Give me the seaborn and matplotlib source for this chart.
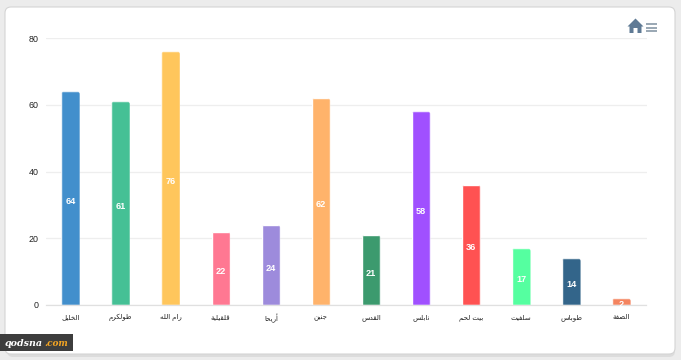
import matplotlib
matplotlib.use('Agg')
import matplotlib.pyplot as plt
import seaborn as sns
import pandas as pd
from matplotlib.patches import FancyBboxPatch, Polygon, Rectangle
from matplotlib.transforms import IdentityTransform

cities = ['الخليل', 'طولكرم', 'رام الله', 'قلقيلية', 'أريحا', 'جنين',
          'القدس', 'نابلس', 'بيت لحم', 'سلفيت', 'طوباس', 'الضفة']
values = [64, 61, 76, 22, 24, 62, 21, 58, 36, 17, 14, 2]
colors = ['#428fcc', '#45c095', '#ffc65c', '#ff7892', '#9d8bdc', '#ffb36b',
          '#3c9a6e', '#a050ff', '#ff5252', '#55ffa0', '#33658a', '#f4845f']
y_ticks = [0, 20, 40, 60, 80]

# first code point of the isolated form; order is isolated, final, initial, medial
FORMS = {'ا': 0xFE8D, 'أ': 0xFE83, 'ب': 0xFE8F, 'ت': 0xFE95, 'ة': 0xFE93, 'ج': 0xFE9D,
         'ح': 0xFEA1, 'خ': 0xFEA5, 'د': 0xFEA9, 'ر': 0xFEAD, 'س': 0xFEB1, 'ض': 0xFEBD,
         'ط': 0xFEC1, 'ف': 0xFED1, 'ق': 0xFED5, 'ك': 0xFED9, 'ل': 0xFEDD, 'م': 0xFEE1,
         'ن': 0xFEE5, 'ه': 0xFEE9, 'و': 0xFEED, 'ي': 0xFEF1}
NO_NEXT = 'اأةدرو'  # these letters do not join to the following one


def shape(text):
    """matplotlib has no Arabic shaping, so pick the forms and reverse by hand."""
    out = []
    for i, ch in enumerate(text):
        if ch not in FORMS:
            out.append(ch)
            continue
        prev = text[i - 1] if i > 0 else ' '
        nxt = text[i + 1] if i + 1 < len(text) else ' '
        joins_prev = prev in FORMS and prev not in NO_NEXT
        joins_next = nxt in FORMS and ch not in NO_NEXT
        offset = {(0, 0): 0, (1, 0): 1, (0, 1): 2, (1, 1): 3}[(int(joins_prev), int(joins_next))]
        out.append(chr(FORMS[ch] + offset))
    return ''.join(reversed(out))


df = pd.DataFrame({'city': [shape(c) for c in cities], 'value': values})

sns.set_theme(style='white')
plt.rcParams['font.family'] = ['Liberation Sans', 'DejaVu Sans']

fig = plt.figure(figsize=(6.81, 3.6), dpi=100, facecolor='#ececec')

# page layer in pixel coordinates: card, toolbar icons, watermark
bg = fig.add_axes([0, 0, 1, 1], zorder=0)
bg.set_xlim(0, 681)
bg.set_ylim(360, 0)
bg.axis('off')
bg.add_patch(FancyBboxPatch((7, 10), 668, 347, boxstyle='round,pad=0,rounding_size=6',
                            fc='#dcdcdc', ec='none'))
bg.add_patch(FancyBboxPatch((5, 7), 670, 347, boxstyle='round,pad=0,rounding_size=6',
                            fc='white', ec='#d4d4d4', lw=0.8))

icon = '#5f7a95'
bg.add_patch(Polygon([(627.5, 26.5), (635.5, 18.5), (643.5, 26.5), (641.5, 26.5), (641.5, 33),
                      (637.5, 33), (637.5, 28), (633.5, 28), (633.5, 33), (629.5, 33),
                      (629.5, 26.5)], fc=icon, ec='none'))
for y in (24, 27.5, 31):
    bg.plot([646, 657], [y, y], color='#7d8f9f', lw=1.1, solid_capstyle='butt')

bg.add_patch(Rectangle((0, 334), 73, 17, fc='#3d3d3d', ec='none'))
bg.text(5, 343, 'qodsna', color='white', fontsize=6.8, fontweight='bold', fontstyle='italic',
        family='DejaVu Serif', va='center', ha='left')
bg.text(44.5, 343, '.com', color='#f5a623', fontsize=6.4, fontweight='bold', fontstyle='italic',
        family='DejaVu Serif', va='center', ha='left')

# chart layer: plot area runs x 45.5-646.5, y 38-305 in pixels
ax = fig.add_axes([45.5 / 681, 1 - 305 / 360, 601 / 681, 267 / 360], zorder=1)
ax.patch.set_alpha(0)
sns.barplot(data=df, x='city', y='value', hue='city', palette=colors, legend=False,
            width=0.37, saturation=1, ax=ax)
ax.set_xlim(-0.5, 11.5)
ax.set_ylim(0, 80)
ax.set_xlabel('')
ax.set_ylabel('')
ax.set_yticks(y_ticks)
ax.grid(axis='y', color='#eeeeee', lw=0.9)
ax.set_axisbelow(True)
sns.despine(ax=ax, left=True, top=True, right=True)
ax.spines['bottom'].set_color('#e0e0e0')
ax.spines['bottom'].set_linewidth(0.9)

ax.set_xticks([i - 0.5 for i in range(13)], minor=True)
ax.tick_params(axis='x', which='minor', length=4, width=0.7, color='#e0e0e0')
ax.tick_params(axis='x', which='major', length=0, pad=6.5, labelsize=5.0, labelcolor='#222222')
ax.tick_params(axis='y', length=0, pad=5, labelsize=6.4, labelcolor='#222222')

# rounded bar tops through a clip path, and the value labels inside the bars
fig.canvas.draw()
for bars in ax.containers:
    for bar in bars:
        box = bar.get_window_extent()
        # extends below the axis so only the top corners show as round
        clip = FancyBboxPatch((box.x0, box.y0 - 5), box.width, box.height + 5,
                              boxstyle='round,pad=0,rounding_size=3', transform=IdentityTransform())
        bar.set_clip_path(clip)
    ax.bar_label(bars, labels=[str(int(b.get_height())) for b in bars], label_type='center',
                 color='white', fontsize=6.6, fontweight='bold', padding=-2.2)

fig.savefig('out.png', dpi=100, facecolor=fig.get_facecolor())
